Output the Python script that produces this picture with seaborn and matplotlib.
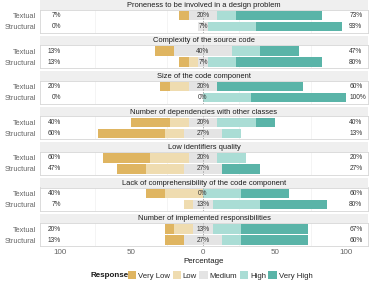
import pandas as pd
import seaborn as sns
import matplotlib.pyplot as plt
from matplotlib.patches import Patch

# === Data (percent of respondents) ===
factors = [
    "Proneness to be involved in a design problem",
    "Complexity of the source code",
    "Size of the code component",
    "Number of dependencies with other classes",
    "Low identifiers quality",
    "Lack of comprehensibility of the code component",
    "Number of implemented responsibilities",
]
groups = ["Textual", "Structural"]
levels = ["Very Low", "Low", "Medium", "High", "Very High"]

very_low_t = [6.7, 13.3, 6.7, 26.7, 33.3, 13.3, 6.7]
low_t = [0.0, 0.0, 13.3, 13.3, 26.7, 26.7, 13.3]
medium_t = [20.0, 40.0, 20.0, 20.0, 20.0, 0.0, 13.3]
high_t = [13.3, 20.0, 0.0, 26.7, 20.0, 26.7, 20.0]
very_high_t = [60.0, 26.7, 60.0, 13.3, 0.0, 33.3, 46.7]

very_low_s = [0.0, 6.7, 0.0, 46.7, 20.0, 0.0, 13.3]
low_s = [0.0, 6.7, 0.0, 13.3, 26.7, 6.7, 0.0]
medium_s = [6.7, 6.7, 0.0, 26.7, 26.7, 13.3, 26.7]
high_s = [33.3, 20.0, 33.3, 13.3, 0.0, 33.3, 13.3]
very_high_s = [60.0, 60.0, 66.7, 0.0, 26.7, 46.7, 46.7]

colors = ["#DFB561", "#EFDCB0", "#E4E4E4", "#AADDD5", "#5AB4A8"]

rows = []
for i, f in enumerate(factors):
    rows.append([f, "Textual", very_low_t[i], low_t[i], medium_t[i], high_t[i], very_high_t[i]])
    rows.append([f, "Structural", very_low_s[i], low_s[i], medium_s[i], high_s[i], very_high_s[i]])
df = pd.DataFrame(rows, columns=["factor", "group"] + levels)

# diverging cumulative extents
df["mid_r"] = df["Medium"] / 2
df["high_r"] = df["mid_r"] + df["High"]
df["vhigh_r"] = df["high_r"] + df["Very High"]
df["mid_l"] = -df["Medium"] / 2
df["low_l"] = df["mid_l"] - df["Low"]
df["vlow_l"] = df["low_l"] - df["Very Low"]

# === Style ===
sns.set_theme(style="white")
plt.rcParams["font.family"] = ["Liberation Sans", "DejaVu Sans"]

W, H = 369, 281
fig = plt.figure(figsize=(W / 100, H / 100), dpi=100)

x0, x1 = 40, 368
strip_h, panel_h, period = 9.5, 23, 35.6
txt_grey = "#666666"

for i, f in enumerate(factors):
    d = df[df["factor"] == f]
    top = i * period
    sax = fig.add_axes([x0 / W, 1 - (top + strip_h) / H, (x1 - x0) / W, strip_h / H])
    sax.set_facecolor("#EFEFEF")
    sax.set_xticks([]); sax.set_yticks([])
    for s in sax.spines.values():
        s.set_visible(False)
    sax.text(0.5, 0.45, f, ha="center", va="center", fontsize=5.4, color="#1a1a1a",
             transform=sax.transAxes)

    ax = fig.add_axes([x0 / W, 1 - (top + strip_h + panel_h) / H, (x1 - x0) / W, panel_h / H])
    for xg in [-75, -25, 25, 75]:
        ax.axvline(xg, color="#F0F0F0", lw=0.5, zorder=0)
    layers = [("vhigh_r", 4), ("high_r", 3), ("vlow_l", 0), ("low_l", 1), ("mid_r", 2), ("mid_l", 2)]
    for col, ci in layers:
        sns.barplot(data=d, x=col, y="group", order=groups, orient="h", color=colors[ci],
                    width=0.86, linewidth=0, saturation=1, ax=ax, zorder=2)
    ax.axvline(0, color="#8a8a8a", lw=0.5, ls=(0, (2, 2)), zorder=3)

    ax.set_xlim(-113.7, 115.1)
    ax.set_ylim(1.545, -0.545)
    ax.set_xlabel(""); ax.set_ylabel("")
    ax.set_yticks([0, 1])
    ax.set_yticklabels(groups, fontsize=5.3, color=txt_grey)
    ax.tick_params(axis="y", length=0, pad=3)
    for s in ax.spines.values():
        s.set_color("#D6D6D6"); s.set_linewidth(0.6)

    for j, g in enumerate(groups):
        r = d[d["group"] == g].iloc[0]
        left = round(r["Very Low"] + r["Low"])
        mid = round(r["Medium"])
        right = round(r["High"] + r["Very High"])
        ax.text(-99, j, f"{left}%", ha="right", va="center", fontsize=4.8, color="#333333", zorder=4)
        ax.text(0, j, f"{mid}%", ha="center", va="center", fontsize=4.8, color="#333333", zorder=4)
        ax.text(102, j, f"{right}%", ha="left", va="center", fontsize=4.8, color="#333333", zorder=4)

    if i < len(factors) - 1:
        ax.set_xticks([])
    else:
        ax.set_xticks([-100, -50, 0, 50, 100])
        ax.set_xticklabels(["100", "50", "0", "50", "100"], fontsize=5.8, color=txt_grey)
        ax.tick_params(axis="x", length=1.5, color="#D6D6D6", pad=0.8)
        ax.set_xlabel("Percentage", fontsize=5.7, color="#1a1a1a", labelpad=1)

# === Legend ===
handles = [Patch(facecolor=c, edgecolor="none") for c in colors]
fig.text(129 / W, 1 - 275.5 / H, "Response", ha="right", va="center", fontsize=5.8,
         fontweight="bold", color="#1a1a1a")
fig.legend(handles, levels, loc="center left", bbox_to_anchor=(128 / W, 1 - 275.5 / H),
           ncol=5, frameon=False, fontsize=5.6, handlelength=1.07, handleheight=1.07,
           handletextpad=0.25, columnspacing=0.3, borderpad=0, borderaxespad=0)

plt.savefig("out.png", dpi=100)
